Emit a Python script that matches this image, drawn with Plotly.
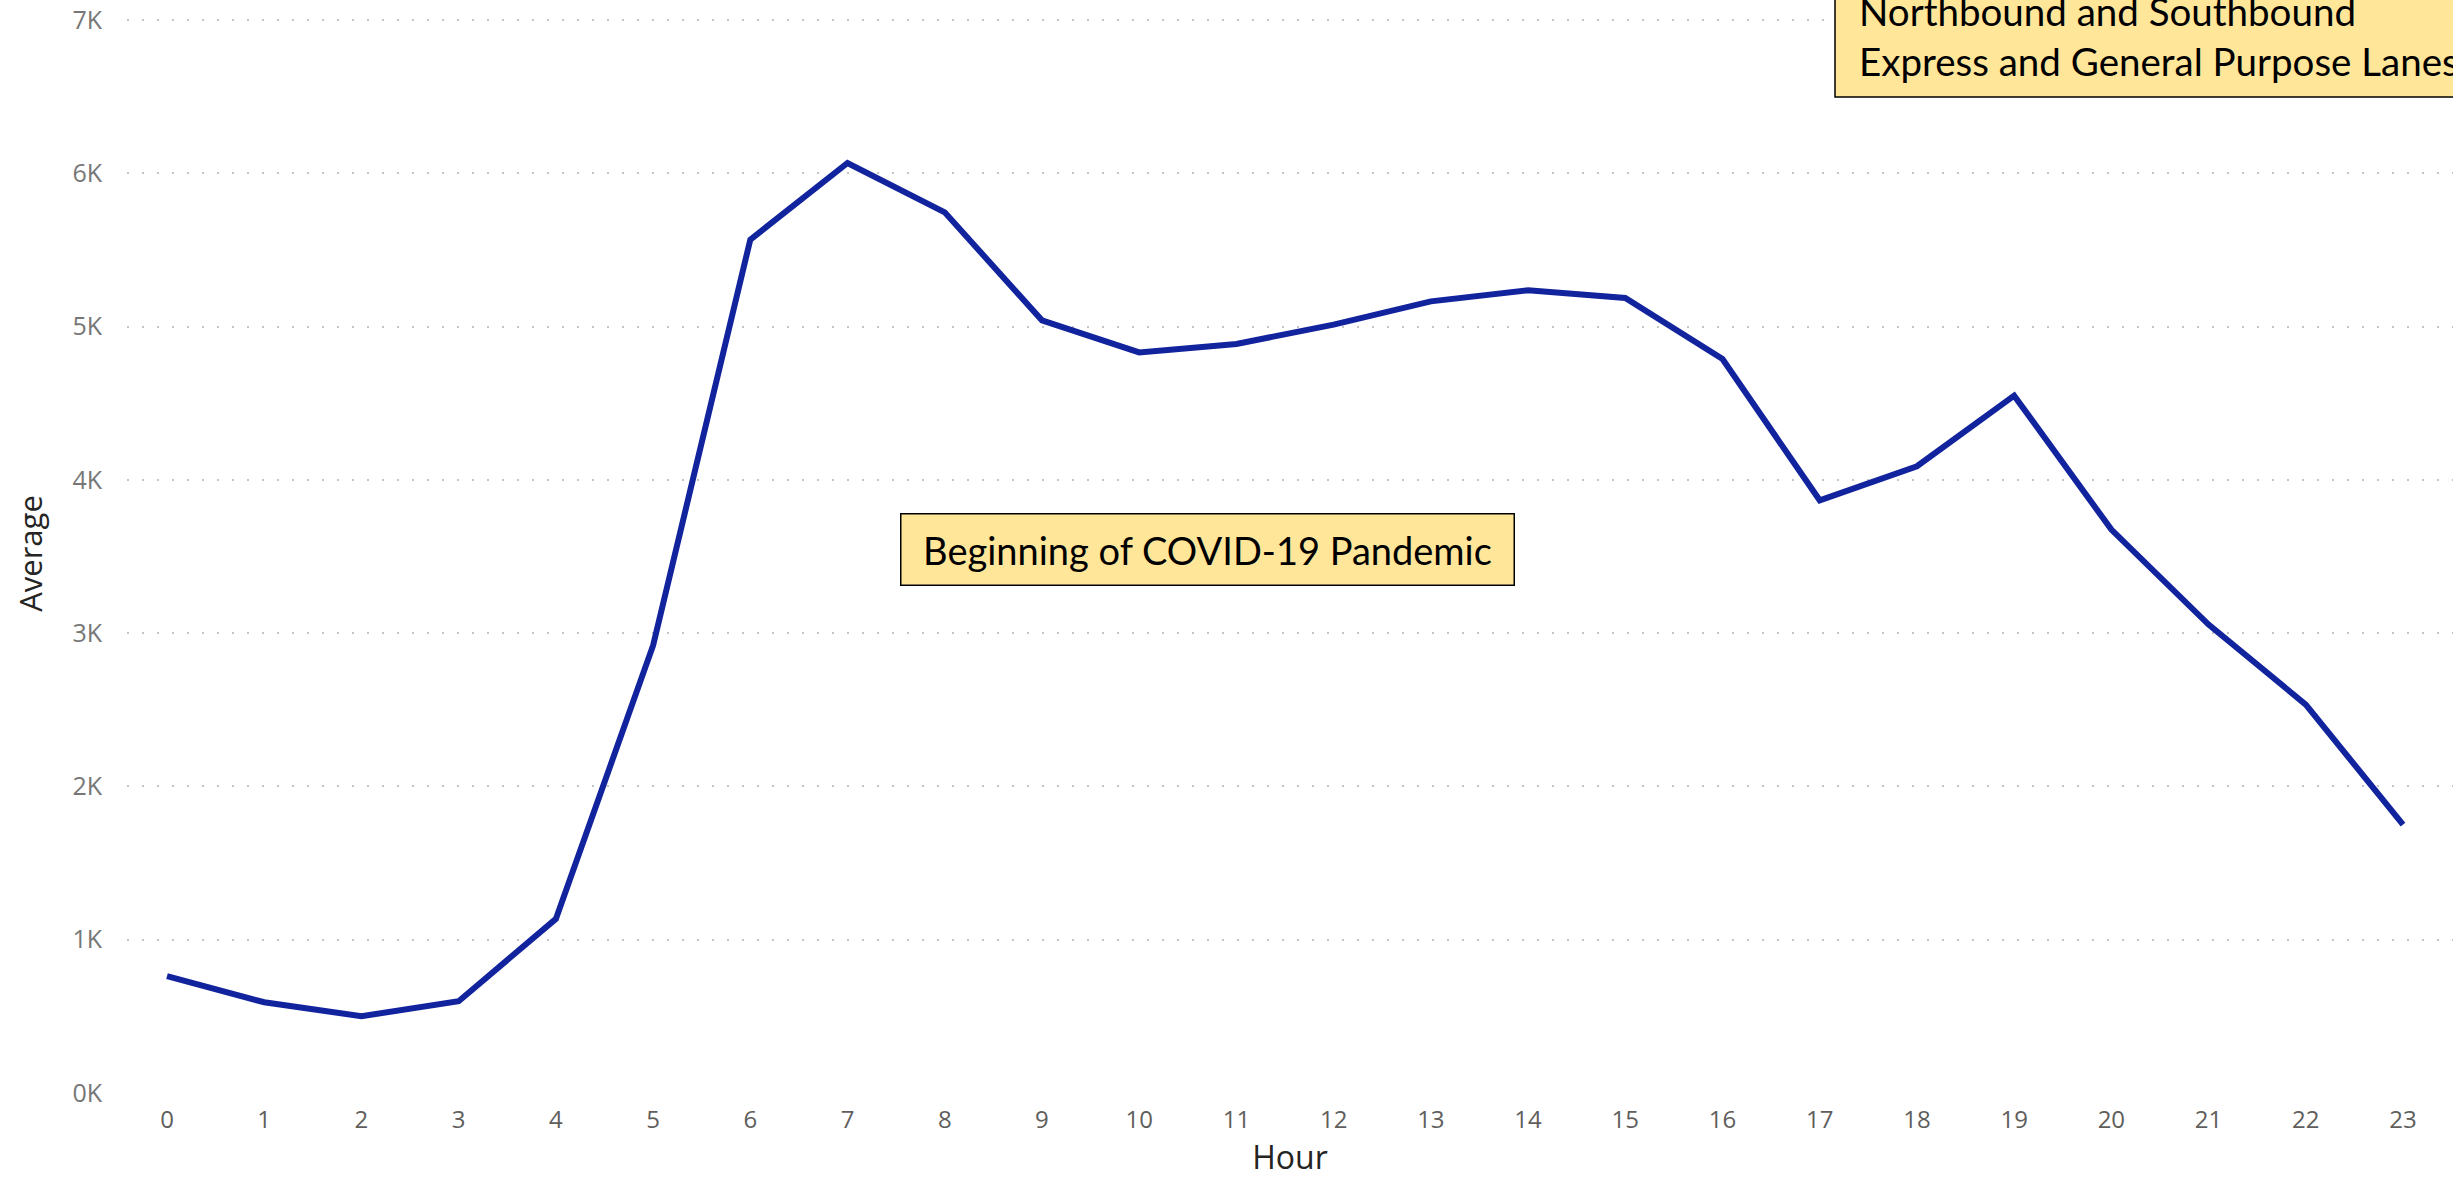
import plotly.graph_objects as go

hours = list(range(24))
average = [762, 592, 501, 599, 1136, 2920, 5568, 6068, 5746, 5041, 4832, 4887,
           5013, 5165, 5237, 5187, 4789, 3867, 4089, 4550, 3676, 3056, 2534, 1751]
y_tick_vals = [0, 1000, 2000, 3000, 4000, 5000, 6000, 7000]
y_tick_text = ["0K", "1K", "2K", "3K", "4K", "5K", "6K", "7K"]
note_center = "Beginning of COVID-19 Pandemic"
note_corner = "Northbound and Southbound<br>Express and General Purpose Lanes"

W, H = 2453, 1180
ML, MR, MT, MB = 127, 0, 14, 87
PW, PH = W - ML - MR, H - MT - MB

def px_x(px):
    return (px - ML) / PW

def px_y(py):
    return (H - MB - py) / PH

fig = go.Figure()
fig.add_trace(go.Scatter(
    x=hours, y=average, mode="lines",
    line=dict(color="#12239E", width=6),
    hoverinfo="x+y", showlegend=False,
))

fig.update_layout(
    width=W, height=H,
    margin=dict(l=ML, r=MR, t=MT, b=MB, pad=0, autoexpand=False),
    paper_bgcolor="white", plot_bgcolor="white",
    font=dict(family="Open Sans, sans-serif", color="#666666"),
    xaxis=dict(
        range=[-0.4115, 23.514], tickmode="array", tickvals=hours,
        ticktext=[str(h) for h in hours], automargin=False,
        showgrid=False, zeroline=False, showline=False,
        tickfont=dict(size=24, color="#605E5C", family="Open Sans, sans-serif"),
        ticks="", ticklabelstandoff=10,
        title=dict(text="Hour", font=dict(size=32, color="#252423",
                                          family="Open Sans, sans-serif"),
                   standoff=10),
    ),
    yaxis=dict(
        range=[0, 7040], tickmode="array", tickvals=y_tick_vals,
        ticktext=y_tick_text, ticklabeloverflow="allow", automargin=False,
        showgrid=True, gridcolor="#C4C4C4", gridwidth=2, griddash="2px,13px",
        zeroline=False, showline=False,
        tickfont=dict(size=25, color="#777777", family="Open Sans, sans-serif"),
        ticks="", ticklabelstandoff=24,
        title=dict(text="Average", font=dict(size=31, color="#252423",
                                             family="Open Sans, sans-serif"),
                   standoff=20),
    ),
    shapes=[dict(
        type="rect", xref="paper", yref="paper",
        x0=px_x(1835), x1=px_x(2520), y0=px_y(97), y1=px_y(-60),
        fillcolor="#FFE699", line=dict(color="#000000", width=1.5), layer="above",
    )],
    annotations=[
        dict(
            text=note_center, xref="paper", yref="paper",
            x=px_x(1207), y=px_y(549), xanchor="center", yanchor="middle",
            showarrow=False, font=dict(family="Lato, sans-serif", size=38, color="#000000"),
            bgcolor="#FFE699", bordercolor="#000000", borderwidth=1.5,
            borderpad=10, width=592, height=50,
        ),
        dict(
            text=note_corner, xref="paper", yref="paper",
            x=px_x(1857), y=px_y(35.5), xanchor="left", yanchor="middle",
            align="left", showarrow=False,
            font=dict(family="Lato, sans-serif", size=38.5, color="#000000"),
        ),
    ],
)

fig.write_html("out.html", config={"displayModeBar": False},
               post_script="document.body.style.margin='0';")
